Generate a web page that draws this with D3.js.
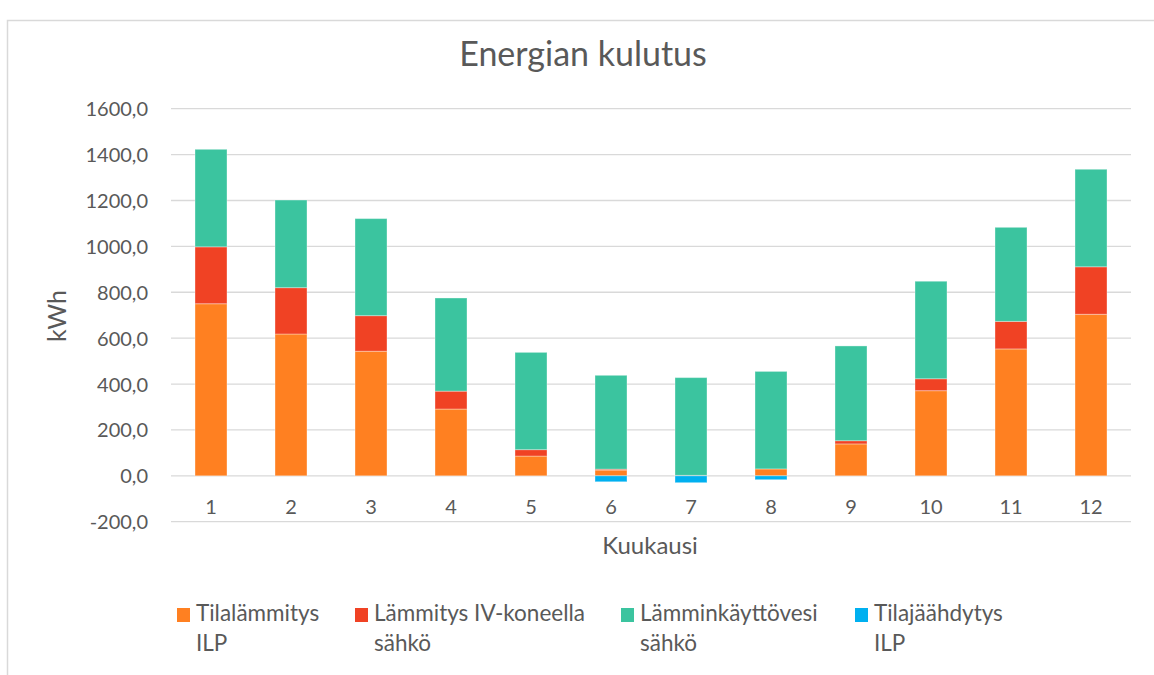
<!DOCTYPE html>
<html>
<head>
<meta charset="utf-8">
<script src="https://cdn.jsdelivr.net/npm/d3@7"></script>
<style>
  html, body { margin: 0; padding: 0; background: #ffffff; }
  svg { display: block; }
  text { font-family: Lato, "Open Sans", sans-serif; fill: #595959; }
</style>
</head>
<body>
<svg id="chart" width="1154" height="675"></svg>
<script>
// ---- data ----
const months = ["1","2","3","4","5","6","7","8","9","10","11","12"];
const seriesNames = ["Tilalämmitys ILP", "Lämmitys IV-koneella sähkö", "Lämminkäyttövesi sähkö", "Tilajäähdytys ILP"];
const tilalammitysILP = [750, 618, 543, 291, 86, 25, 2, 30, 139, 371, 553, 704];
const lammitysIV      = [248, 202, 155, 78, 28, 4, 0, 0, 14, 52, 120, 207];
const lamminkayttovesi= [425, 382, 423, 406, 424, 409, 426, 425, 413, 425, 410, 425];
const tilajaahdytys   = [0, 0, 0, 0, 0, -26, -30, -17, 0, 0, 0, 0];
const yTicks = [-200, 0, 200, 400, 600, 800, 1000, 1200, 1400, 1600];
const colors = ["#FF8021", "#F04224", "#3BC49F", "#00B0F0"];
const legendLines = [["Tilalämmitys", "ILP"], ["Lämmitys IV-koneella", "sähkö"], ["Lämminkäyttövesi", "sähkö"], ["Tilajäähdytys", "ILP"]];

// ---- layout ----
const svg = d3.select("#chart");
const plot = { left: 171, right: 1131, top: 108.7, bottom: 521.7 };

// chart frame
svg.append("rect").attr("x", 7.5).attr("y", 20.5).attr("width", 1160).attr("height", 680)
  .attr("fill", "none").attr("stroke", "#d9d9d9").attr("stroke-width", 1.5);

const x = d3.scaleBand().domain(months).range([plot.left, plot.right])
  .paddingInner(0.6).paddingOuter(0.3);
const y = d3.scaleLinear().domain([-200, 1600]).range([plot.bottom, plot.top]);

// gridlines
svg.append("g").selectAll("line").data(yTicks).join("line")
  .attr("x1", plot.left).attr("x2", plot.right)
  .attr("y1", d => y(d)).attr("y2", d => y(d))
  .attr("stroke", "#d9d9d9").attr("stroke-width", 1.3);

// y axis labels
const fmt = v => d3.format(".1f")(v).replace(".", ",").replace("−", "-");
const yAxis = d3.axisLeft(y).tickValues(yTicks).tickSize(0).tickPadding(0).tickFormat(fmt);
const yg = svg.append("g").attr("transform", `translate(${148},0)`).call(yAxis);
yg.select(".domain").remove();
yg.selectAll("text").attr("font-family", "Lato").attr("font-size", 20).attr("fill", "#595959").attr("dy", "0.35em");

// stacked data
const rows = months.map((m, i) => ({
  month: m,
  s0: tilalammitysILP[i], s1: lammitysIV[i], s2: lamminkayttovesi[i], s3: tilajaahdytys[i]
}));
const stack = d3.stack().keys(["s0", "s1", "s2", "s3"]).offset(d3.stackOffsetDiverging);
const stacked = stack(rows);

svg.append("g").selectAll("g").data(stacked).join("g")
  .attr("fill", (d, i) => colors[i])
  .selectAll("rect").data(d => d).join("rect")
  .attr("x", d => x(d.data.month))
  .attr("width", x.bandwidth())
  .attr("y", d => y(Math.max(d[0], d[1])))
  .attr("height", d => Math.abs(y(d[0]) - y(d[1])))
  .attr("stroke", "#ffffff").attr("stroke-opacity", 0.35).attr("stroke-width", 1);

// x axis category labels
svg.append("g").selectAll("text").data(months).join("text")
  .attr("x", d => x(d) + x.bandwidth() / 2)
  .attr("y", 514)
  .attr("text-anchor", "middle")
  .attr("font-size", 20)
  .text(d => d);

// title
svg.append("text").attr("x", 583).attr("y", 66).attr("text-anchor", "middle")
  .attr("font-size", 34).text("Energian kulutus");

// axis titles
svg.append("text").attr("x", 650).attr("y", 554).attr("text-anchor", "middle")
  .attr("font-size", 24).text("Kuukausi");
svg.append("text").attr("transform", "translate(66,316) rotate(-90)").attr("text-anchor", "middle")
  .attr("font-size", 25).text("kWh");

// legend
const legendX = [177, 355, 621, 855];
const lg = svg.append("g").selectAll("g").data(seriesNames).join("g")
  .attr("transform", (d, i) => `translate(${legendX[i]},0)`);
lg.append("rect").attr("x", 0).attr("y", 608).attr("width", 13).attr("height", 14)
  .attr("fill", (d, i) => colors[i]);
lg.append("text").attr("x", 19).attr("y", 621).attr("font-size", 22.5)
  .text((d, i) => legendLines[i][0]);
lg.append("text").attr("x", 19).attr("y", 651).attr("font-size", 22.5)
  .text((d, i) => legendLines[i][1]);
</script>
</body>
</html>
